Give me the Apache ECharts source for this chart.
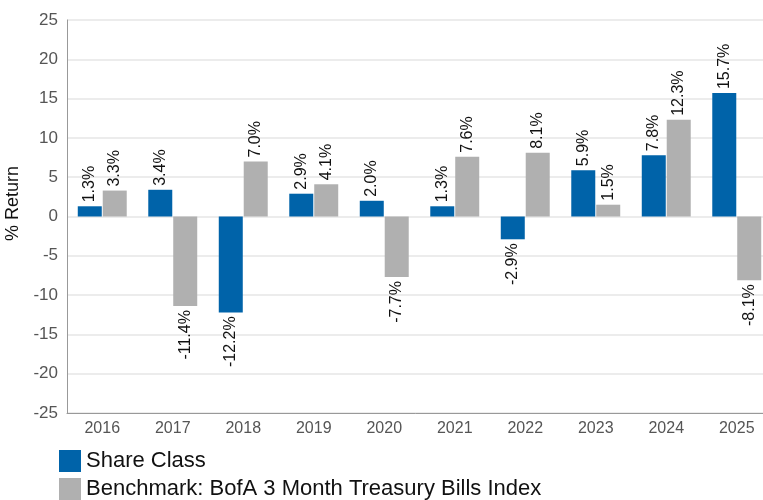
<!DOCTYPE html>
<html>
<head>
<meta charset="utf-8">
<script src="https://cdn.jsdelivr.net/npm/echarts@6/dist/echarts.min.js"></script>
<style>
  html, body { margin: 0; padding: 0; background: #fff; }
  #chart { width: 763px; height: 500px; }
</style>
</head>
<body>
<div id="chart"></div>
<script>
// calendar years on the x axis
var years = ['2016', '2017', '2018', '2019', '2020', '2021', '2022', '2023', '2024', '2025'];
// annual returns, %
var shareClass = [1.3, 3.4, -12.2, 2.9, 2.0, 1.3, -2.9, 5.9, 7.8, 15.7];
var benchmark = [3.3, -11.4, 7.0, 4.1, -7.7, 7.6, 8.1, 1.5, 12.3, -8.1];
var seriesNames = ['Share Class', 'Benchmark: BofA 3 Month Treasury Bills Index'];

/**
 * @description 正负值分别把标签放在柱子上方或下方
 */
function withLabels(values) {
    return values.map(function (v) {
        return {
            value: v,
            label: v >= 0
                ? { position: 'top', align: 'left' }
                : { position: 'bottom', align: 'right' }
        };
    });
}

var labelStyle = {
    show: true,
    rotate: 90,
    verticalAlign: 'middle',
    distance: 4,
    fontFamily: 'Liberation Sans, Arial, sans-serif',
    fontSize: 16,
    color: '#111',
    formatter: function (p) {
        return p.value.toFixed(1) + '%';
    }
};

var myChart = echarts.init(document.getElementById('chart'));
var option = {
    animation: false,
    textStyle: { fontFamily: 'Liberation Sans, Arial, sans-serif' },
    grid: { left: 67, right: -9, top: 20, bottom: 87, containLabel: false, outerBoundsMode: 'none' },
    legend: {
        data: seriesNames,
        orient: 'vertical',
        left: 59,
        top: 450,
        padding: 0,
        itemWidth: 22,
        itemHeight: 22,
        itemGap: 6,
        icon: 'rect',
        textStyle: { fontSize: 22, color: '#111' }
    },
    xAxis: {
        type: 'category',
        data: years,
        axisLine: { onZero: false, lineStyle: { color: '#999' } },
        axisTick: { show: false },
        axisLabel: { color: '#555', fontSize: 16, margin: 8 }
    },
    yAxis: {
        type: 'value',
        min: -25,
        max: 25,
        interval: 5,
        name: '% Return',
        nameLocation: 'middle',
        nameGap: 45,
        nameTextStyle: { fontSize: 18, color: '#111', padding: [0, 0, 0, 26] },
        axisLine: { show: true, lineStyle: { color: '#999' } },
        axisTick: { show: false },
        axisLabel: { color: '#555', fontSize: 17, margin: 9 },
        splitLine: { lineStyle: { color: '#e6e6e6', width: 1.5 } }
    },
    series: [{
        name: seriesNames[0],
        type: 'bar',
        data: withLabels(shareClass),
        barWidth: 24,
        barGap: '4%',
        itemStyle: { color: '#0063a9' },
        label: labelStyle
    }, {
        name: seriesNames[1],
        type: 'bar',
        data: withLabels(benchmark),
        barWidth: 24,
        itemStyle: { color: '#b0b0b0' },
        label: labelStyle
    }]
};
myChart.setOption(option, true);
</script>
</body>
</html>
